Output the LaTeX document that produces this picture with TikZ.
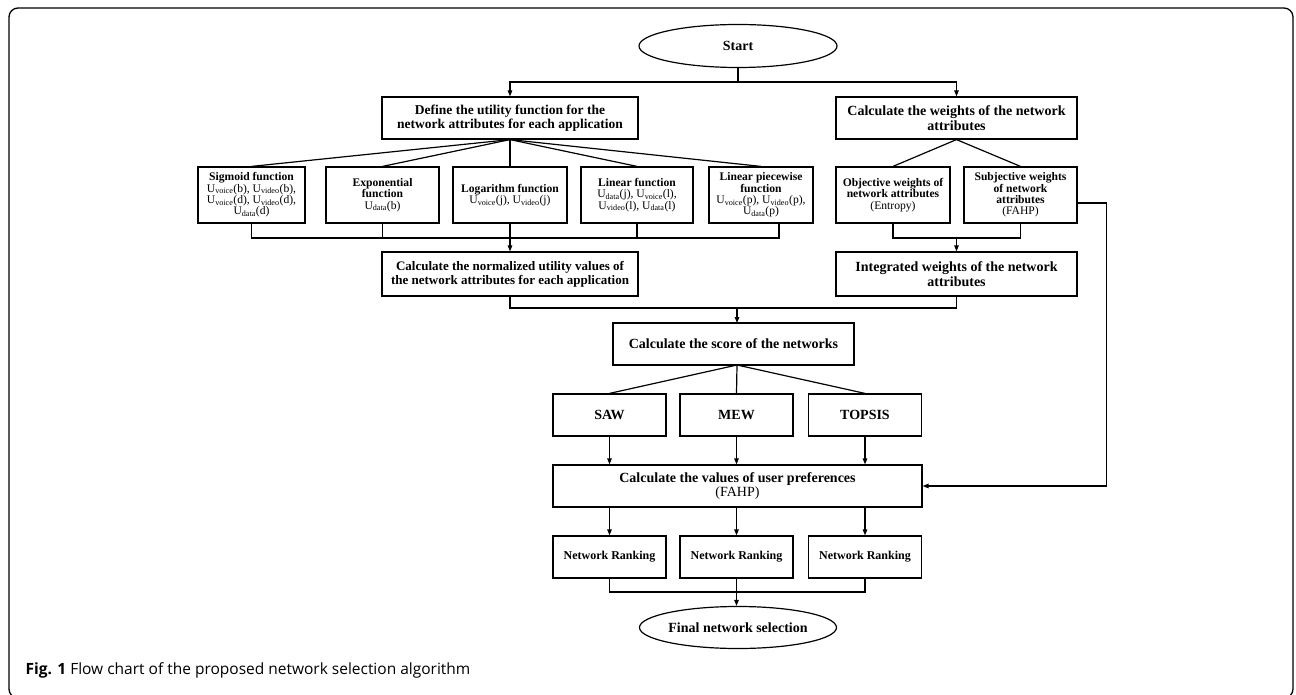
\documentclass[tikz,border=0pt]{standalone}
\usepackage{fontspec}
\setmainfont{Liberation Serif}
\newfontfamily\capfont{Open Sans}
\usetikzlibrary{arrows.meta,shapes.geometric,calc}
\newcommand\fbfont{\fontsize{11.6}{11.3}\selectfont\lineskiplimit-6pt\relax}
\begin{document}
\begin{tikzpicture}[x=1pt,y=-1pt,line width=1.2pt,
  arr/.style={-{Triangle[length=6pt,width=4.5pt]}},
  bx/.style={draw,rectangle,inner sep=0pt,align=center,font=\bfseries\fontsize{14}{14.5}\selectfont},
  fb/.style={draw,rectangle,inner sep=0pt,align=center,minimum height=56pt,font=\fbfont},
  sb/.style={draw,rectangle,inner sep=0pt,align=center,minimum width=113pt,minimum height=42pt,font=\bfseries\fontsize{14}{14.5}\selectfont},
  rb/.style={draw,rectangle,inner sep=0pt,align=center,minimum width=113pt,minimum height=42pt,font=\bfseries\fontsize{12}{13}\selectfont},
  ov/.style={draw,ellipse,inner sep=0pt,font=\bfseries\fontsize{14}{14.5}\selectfont}]
\useasboundingbox (0,0) rectangle (1296,695);
\draw[line width=1.3pt,rounded corners=9pt] (9,8) rectangle (1293,698);

\node[ov,minimum width=198pt,minimum height=43pt] (start) at (738,46) {Start};
\node[bx,minimum width=256pt,minimum height=42pt,font=\bfseries\fontsize{13.5}{14.2}\selectfont] (define) at (510,118) {Define the utility function for the\\network attributes for each application};
\node[bx,minimum width=241pt,minimum height=42pt] (weights) at (956.5,118) {Calculate the weights of the network\\attributes};

\node[fb,minimum width=107pt] (sig) at (251.5,195) {{\bfseries Sigmoid function}\\U\textsubscript{voice}(b), U\textsubscript{video}(b),\\U\textsubscript{voice}(d), U\textsubscript{video}(d),\\U\textsubscript{data}(d)};
\node[fb,minimum width=113pt] (exp) at (382.5,195) {{\bfseries Exponential}\\{\bfseries function}\\U\textsubscript{data}(b)};
\node[fb,minimum width=114pt] (log) at (510,195) {{\bfseries Logarithm function}\\U\textsubscript{voice}(j), U\textsubscript{video}(j)};
\node[fb,minimum width=112pt] (lin) at (637,195) {{\bfseries Linear function}\\U\textsubscript{data}(j), U\textsubscript{voice}(l),\\U\textsubscript{video}(l), U\textsubscript{data}(l)};
\node[fb,minimum width=104pt] (pw) at (761,195) {{\bfseries Linear piecewise}\\{\bfseries function}\\U\textsubscript{voice}(p), U\textsubscript{video}(p),\\U\textsubscript{data}(p)};
\node[fb,minimum width=114pt] (obj) at (893,195) {{\bfseries Objective weights of}\\{\bfseries network attributes}\\(Entropy)};
\node[fb,minimum width=113pt] (sub) at (1020.5,195) {{\bfseries Subjective weights}\\{\bfseries of network}\\{\bfseries attributes}\\(FAHP)};

\node[bx,minimum width=256pt,minimum height=44pt,font=\bfseries\fontsize{13}{14}\selectfont] (norm) at (510,274) {Calculate the normalized utility values of\\the network attributes for each application};
\node[bx,minimum width=241pt,minimum height=44pt] (integ) at (956.5,274) {Integrated weights of the network\\attributes};

\node[bx,minimum width=241pt,minimum height=42pt] (score) at (733.5,344) {Calculate the score of the networks};

\node[sb] (saw) at (609.5,415) {SAW};
\node[sb] (mew) at (736.5,415) {MEW};
\node[sb] (top) at (865,415) {TOPSIS};

\node[bx,minimum width=369pt,minimum height=42pt] (pref) at (737.5,486) {Calculate the values of user preferences\\{\normalfont (FAHP)}};

\node[rb] (rk1) at (609.5,557) {Network Ranking};
\node[rb] (rk2) at (736.5,557) {Network Ranking};
\node[rb] (rk3) at (865,557) {Network Ranking};

\node[ov,minimum width=197pt,minimum height=42pt] (fin) at (738,627.5) {Final network selection};

\node[anchor=base west,inner sep=0pt,font=\capfont\fontsize{15.5}{18}\selectfont] (cap) at (25,674) {\textbf{Fig. 1} Flow chart of the proposed network selection algorithm};

% connectors
\coordinate (j1) at (738,82);
\draw (start) -- (j1);
\draw[arr] (j1) -| (define.north);
\draw[arr] (j1) -| (weights.north);

\draw (define.south) -- (sig.north);
\draw (define.south) -- (exp.north);
\draw (define.south) -- (log.north);
\draw (define.south) -- (lin.north);
\draw (define.south) -- (pw.north);
\draw (weights.south) -- (obj.north);
\draw (weights.south) -- (sub.north);

\coordinate (j2) at (510,238);
\coordinate (pwd) at (779,223);
\draw (sig.south) |- (j2) -| (pwd);
\draw (exp.south) -- (exp.south |- j2);
\draw (lin.south) -- (lin.south |- j2);
\draw[arr] (log.south) -- (norm.north);

\coordinate (j3) at (956.5,238);
\draw (obj.south) |- (j3) -| (sub.south);
\draw[arr] (j3) -- (integ.north);

\coordinate (j4) at (737,308);
\coordinate (sc) at (737,323);
\draw (norm.south) |- (j4) -| (integ.south);
\draw[arr] (j4) -- (sc);
\coordinate (scb) at (737,365);
\draw (scb) -- (saw.north);
\draw (scb) -- (mew.north);
\draw (scb) -- (top.north);

\draw[arr] (saw.south) -- (saw.south |- pref.north);
\draw[arr] (mew.south) -- (mew.south |- pref.north);
\draw[arr] (top.south) -- (top.south |- pref.north);

\coordinate (sr) at ($(sub.east)+(0,8)$);
\draw[arr] (sr) -- ++(29,0) |- (pref.east);

\draw[arr] (pref.south -| rk1.north) -- (rk1.north);
\draw[arr] (pref.south -| rk2.north) -- (rk2.north);
\draw[arr] (pref.south -| rk3.north) -- (rk3.north);

\coordinate (j5) at (737,592);
\draw (rk1.south) |- (j5) -| (rk3.south);
\draw[arr] (rk2.south) -- (rk2.south |- fin.north);
\end{tikzpicture}
\end{document}
